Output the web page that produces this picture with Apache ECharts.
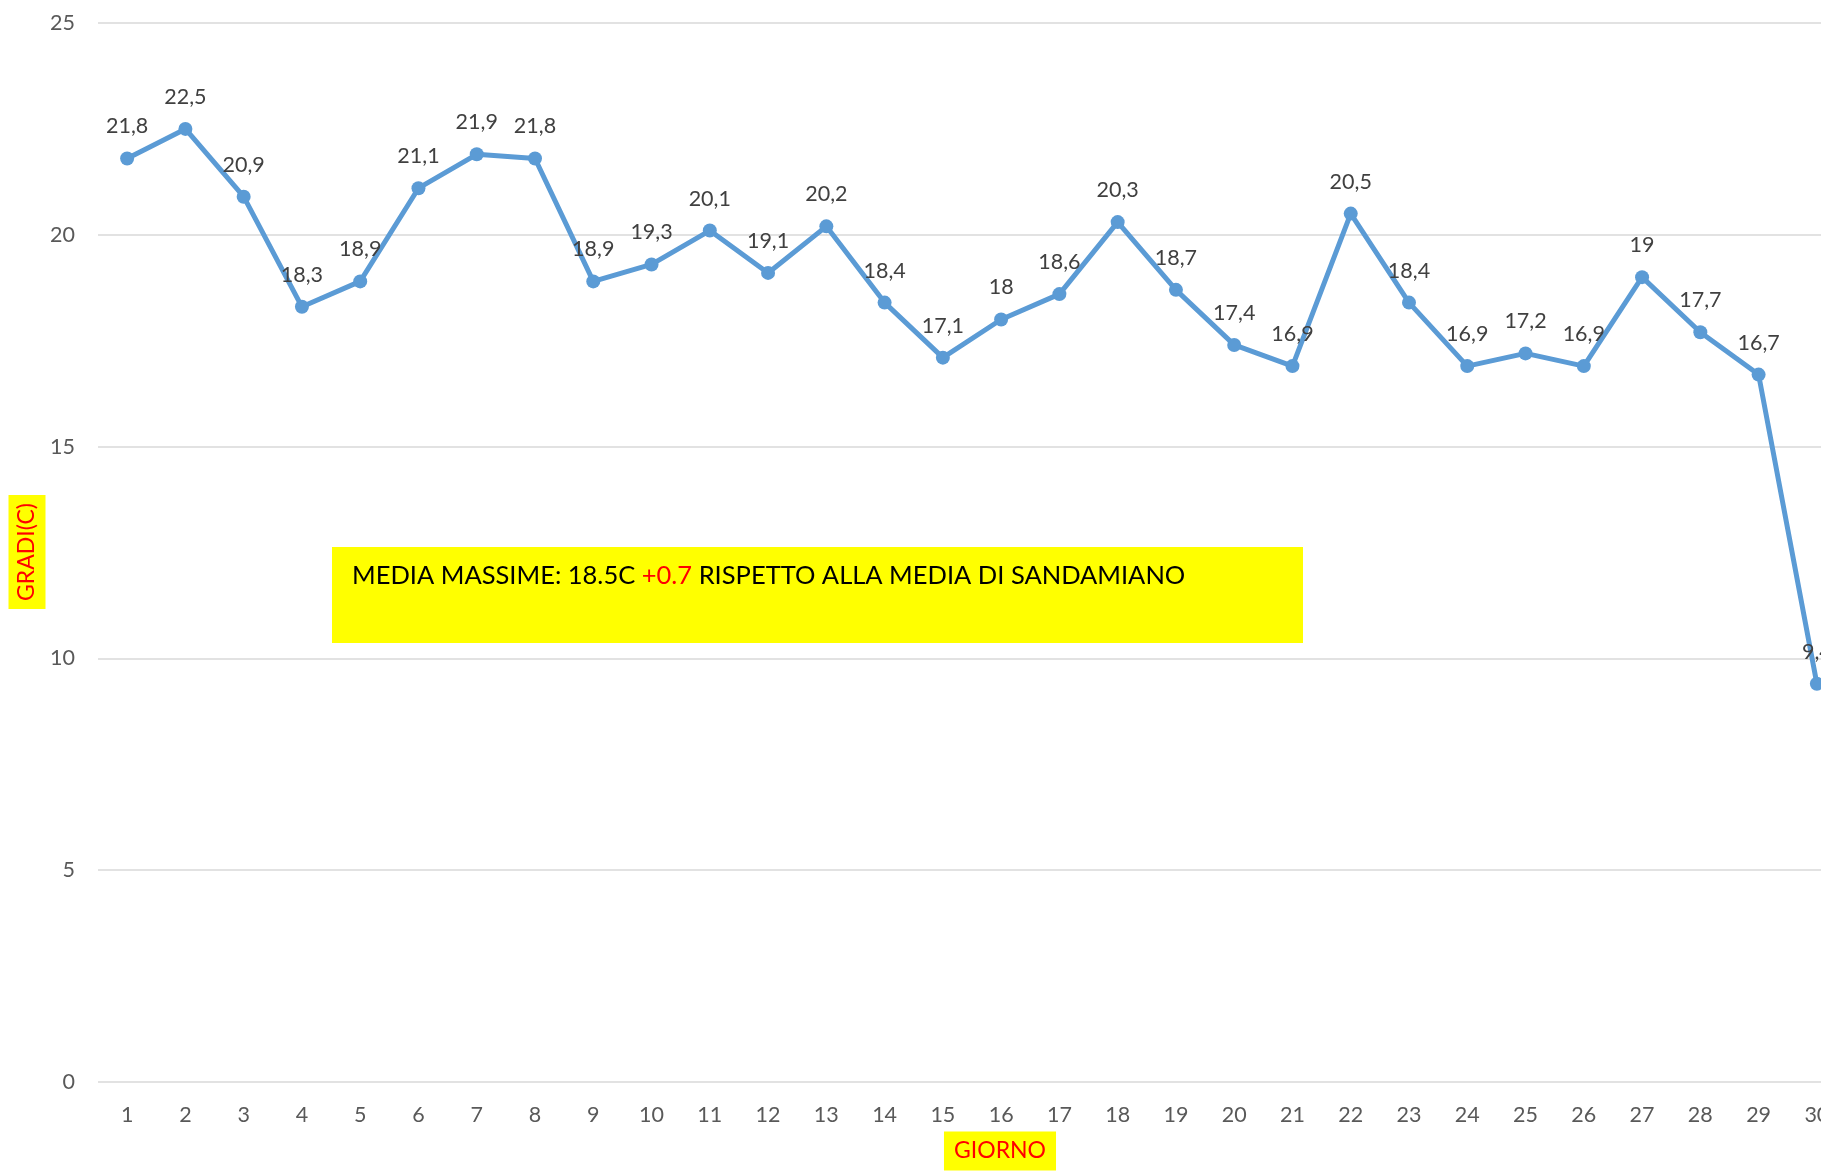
<!DOCTYPE html>
<html>
<head>
<meta charset="utf-8">
<script src="https://cdn.jsdelivr.net/npm/echarts@6/dist/echarts.min.js"></script>
<style>
  html, body { margin: 0; padding: 0; background: #fff; }
  /* il grafico originale è tagliato a destra */
  #wrap { width: 1821px; height: 1175px; overflow: hidden; }
  #main { width: 1850px; height: 1175px; }
</style>
</head>
<body>
<div id="wrap"><div id="main"></div></div>
<script>
// giorni del mese
const days = ['1','2','3','4','5','6','7','8','9','10','11','12','13','14','15','16','17','18','19','20','21','22','23','24','25','26','27','28','29','30'];
// temperature massime
const maxTemps = [21.8, 22.5, 20.9, 18.3, 18.9, 21.1, 21.9, 21.8, 18.9, 19.3, 20.1, 19.1, 20.2, 18.4, 17.1, 18, 18.6, 20.3, 18.7, 17.4, 16.9, 20.5, 18.4, 16.9, 17.2, 16.9, 19, 17.7, 16.7, 9.4];
const yTicks = [0, 5, 10, 15, 20, 25];

const chart = echarts.init(document.getElementById('main'));

const option = {
  animation: false,
  textStyle: { fontFamily: 'Lato' },
  grid: {
    left: 98,
    right: 4,
    top: 23,
    bottom: 93
  },
  xAxis: {
    type: 'category',
    data: days,
    boundaryGap: true,
    axisLine: { show: false },
    axisTick: { show: false },
    axisLabel: { color: '#595959', fontSize: 21.5, margin: 22 }
  },
  yAxis: {
    type: 'value',
    min: yTicks[0],
    max: yTicks[yTicks.length - 1],
    interval: 5,
    axisLine: { show: false },
    axisTick: { show: false },
    axisLabel: { color: '#595959', fontSize: 21.5, margin: 23 },
    splitLine: { lineStyle: { color: '#D9D9D9', width: 1.5 } }
  },
  series: [{
    type: 'line',
    data: maxTemps,
    symbol: 'circle',
    symbolSize: 14,
    lineStyle: { color: '#5B9BD5', width: 5 },
    itemStyle: { color: '#5B9BD5' },
    label: {
      show: true,
      position: 'top',
      distance: 14,
      color: '#404040',
      fontSize: 21.5,
      formatter: p => String(p.value).replace('.', ',')
    }
  }],
  graphic: [
    {
      type: 'rect',
      shape: { x: 332, y: 547, width: 971, height: 96 },
      style: { fill: '#FFFF00' }
    },
    {
      type: 'text',
      x: 352,
      y: 576,
      style: {
        text: '{a|MEDIA MASSIME: 18.5C }{b|+0.7}{a| RISPETTO ALLA MEDIA DI SANDAMIANO}',
        verticalAlign: 'middle',
        rich: {
          a: { fontSize: 25.5, fontFamily: 'Lato', fill: '#000' },
          b: { fontSize: 25.5, fontFamily: 'Lato', fill: '#FF0000' }
        }
      }
    },
    {
      type: 'text',
      x: 1000,
      y: 1151,
      style: {
        text: 'GIORNO',
        fontSize: 23,
        fontFamily: 'Lato',
        fill: '#FF0000',
        align: 'center',
        verticalAlign: 'middle',
        backgroundColor: '#FFFF00',
        padding: [8, 10, 8, 10]
      }
    },
    {
      type: 'text',
      x: 27,
      y: 552,
      rotation: Math.PI / 2,
      style: {
        text: 'GRADI(C)',
        fontSize: 23,
        fontFamily: 'Lato',
        fill: '#FF0000',
        align: 'center',
        verticalAlign: 'middle',
        backgroundColor: '#FFFF00',
        padding: [7, 8, 7, 8]
      }
    }
  ]
};

chart.setOption(option);
</script>
</body>
</html>
